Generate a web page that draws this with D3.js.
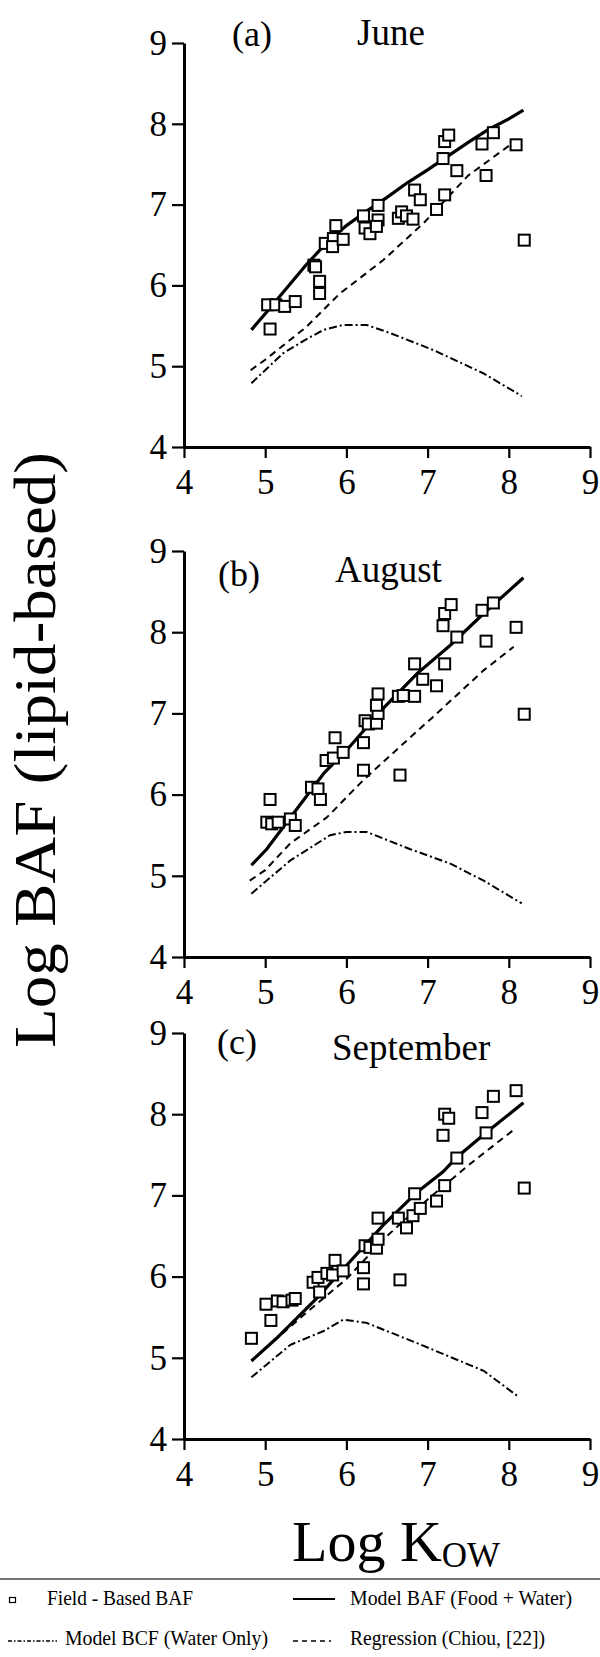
<!DOCTYPE html>
<html>
<head>
<meta charset="utf-8">
<script src="https://cdn.jsdelivr.net/npm/d3@7"></script>
<style>
body { margin: 0; background: #fff; }
svg { display: block; }
svg text { font-family: "Liberation Serif", "Times New Roman", serif; }
</style>
</head>
<body>
<svg></svg>
<script>
// values (log Kow, log BAF)
let ticks = [4, 5, 6, 7, 8, 9]

let juneField = [[5.03,5.76],[5.13,5.76],[5.24,5.74],[5.37,5.80],[5.06,5.46],[5.60,6.25],[5.62,6.23],[5.67,6.05],[5.67,5.90],[5.74,6.52],[5.84,6.58],[5.83,6.48],[5.87,6.74],[5.96,6.57],[6.21,6.86],[6.23,6.71],[6.29,6.64],[6.39,6.99],[6.39,6.81],[6.37,6.73],[6.64,6.83],[6.68,6.91],[6.74,6.86],[6.82,6.82],[6.84,7.18],[6.91,7.06],[7.11,6.94],[7.21,7.12],[7.19,7.57],[7.21,7.78],[7.26,7.86],[7.36,7.42],[7.67,7.75],[7.72,7.36],[7.81,7.89],[8.09,7.74],[8.19,6.56]]
let juneBAF = [[4.83,5.45],[5.0,5.65],[5.25,5.95],[5.5,6.25],[5.75,6.52],[6.0,6.74],[6.25,6.92],[6.5,7.09],[6.75,7.27],[7.0,7.43],[7.25,7.6],[7.5,7.77],[7.75,7.93],[8.0,8.06],[8.18,8.17]]
let juneBCF = [[4.83,4.79],[5.22,5.16],[5.5,5.33],[5.72,5.45],[5.96,5.51],[6.25,5.51],[6.54,5.41],[7.07,5.20],[7.69,4.91],[8.16,4.63]]
let juneReg = [[4.82,4.95],[5.0,5.08],[5.5,5.48],[5.92,5.90],[6.45,6.31],[6.95,6.77],[7.5,7.36],[8.1,7.80]]

let augustField = [[5.06,5.94],[5.02,5.66],[5.08,5.64],[5.16,5.66],[5.31,5.70],[5.37,5.62],[5.57,6.09],[5.65,6.07],[5.68,5.94],[5.75,6.42],[5.84,6.45],[5.86,6.70],[5.96,6.52],[6.21,6.64],[6.21,6.30],[6.23,6.91],[6.27,6.87],[6.37,6.88],[6.39,7.00],[6.37,7.10],[6.39,7.24],[6.64,7.21],[6.70,7.22],[6.84,7.21],[6.84,7.61],[6.94,7.42],[7.11,7.34],[6.66,6.24],[7.21,7.61],[7.19,8.08],[7.21,8.23],[7.29,8.34],[7.36,7.94],[7.67,8.27],[7.72,7.89],[7.81,8.36],[8.09,8.06],[8.19,6.99]]
let augustBAF = [[4.83,5.13],[5.02,5.33],[5.35,5.77],[5.72,6.26],[6.04,6.59],[6.45,7.06],[6.87,7.49],[7.28,7.84],[7.69,8.23],[8.18,8.67]]
let augustBCF = [[4.83,4.78],[5.31,5.19],[5.80,5.50],[6.0,5.54],[6.25,5.54],[6.78,5.33],[7.28,5.15],[7.69,4.94],[8.16,4.66]]
let augustReg = [[4.81,4.94],[5.0,5.07],[5.31,5.40],[5.76,5.72],[6.21,6.18],[6.66,6.59],[7.07,6.96],[7.69,7.53],[8.06,7.82]]

let septemberField = [[4.83,5.24],[5.01,5.66],[5.07,5.46],[5.15,5.70],[5.22,5.69],[5.33,5.71],[5.37,5.73],[5.59,5.93],[5.65,5.99],[5.67,5.81],[5.76,6.04],[5.83,6.02],[5.86,6.20],[5.96,6.07],[6.21,6.11],[6.21,5.91],[6.23,6.38],[6.29,6.36],[6.37,6.35],[6.39,6.46],[6.39,6.72],[6.64,6.72],[6.66,5.96],[6.74,6.60],[6.82,6.75],[6.84,7.02],[6.91,6.84],[7.11,6.93],[7.21,7.12],[7.19,7.74],[7.21,8.00],[7.26,7.95],[7.36,7.46],[7.67,8.02],[7.72,7.77],[7.81,8.22],[8.09,8.29],[8.19,7.09]]
let septemberBAF = [[4.83,4.96],[5.14,5.24],[5.63,5.73],[6.04,6.18],[6.45,6.63],[6.87,7.04],[7.19,7.29],[7.36,7.47],[7.73,7.78],[8.18,8.14]]
let septemberBCF = [[4.83,4.76],[5.31,5.16],[5.72,5.33],[5.96,5.47],[6.25,5.43],[6.87,5.18],[7.69,4.84],[8.12,4.52]]
let septemberReg = [[5.1,5.2],[5.5,5.55],[6.0,5.97],[6.5,6.5],[7.0,6.95],[7.5,7.37],[8.05,7.8]]

let width = 600
let height = 1657
let serif = '"Liberation Serif", "Times New Roman", serif'

let panels = [
    { tag: '(a)', month: 'June', field: juneField, baf: juneBAF, bcf: juneBCF, reg: juneReg,
      top: 43, bottom: 447, tagX: 232, tagY: 46, monthX: 357, monthY: 45 },
    { tag: '(b)', month: 'August', field: augustField, baf: augustBAF, bcf: augustBCF, reg: augustReg,
      top: 551, bottom: 957, tagX: 218, tagY: 586, monthX: 335, monthY: 582 },
    { tag: '(c)', month: 'September', field: septemberField, baf: septemberBAF, bcf: septemberBCF, reg: septemberReg,
      top: 1033, bottom: 1439, tagX: 217, tagY: 1054, monthX: 332, monthY: 1060 }
]

let svg = d3.select('svg')
            .attr('width', width)
            .attr('height', height)

svg.append('rect').attr('width', width).attr('height', height).attr('fill', '#fff')

let x = d3.scaleLinear().domain([4, 9]).range([184, 590])

panels.forEach(p => {
    let y = d3.scaleLinear().domain([4, 9]).range([p.bottom, p.top])
    let g = svg.append('g')

    let line = d3.line()
                 .x(d => x(d[0]))
                 .y(d => y(d[1]))

    g.append('path').attr('d', line(p.bcf))
        .attr('fill', 'none').attr('stroke', '#000')
        .attr('stroke-width', 2).attr('stroke-dasharray', '8,3,2,3')

    g.append('path').attr('d', line(p.reg))
        .attr('fill', 'none').attr('stroke', '#000')
        .attr('stroke-width', 2).attr('stroke-dasharray', '7,5')

    g.append('path').attr('d', line(p.baf))
        .attr('fill', 'none').attr('stroke', '#000')
        .attr('stroke-width', 3.2)

    g.selectAll('rect.pt')
        .data(p.field)
        .enter()
        .append('rect')
        .attr('class', 'pt')
        .attr('x', d => x(d[0]) - 5.5)
        .attr('y', d => y(d[1]) - 5.5)
        .attr('width', 11)
        .attr('height', 11)
        .attr('fill', '#fff')
        .attr('stroke', '#000')
        .attr('stroke-width', 2)

    let yAxis = g.append('g')
        .attr('transform', 'translate(184,0)')
        .call(d3.axisLeft(y).tickValues(ticks).tickFormat(d3.format('d'))
                .tickSize(12).tickSizeOuter(0).tickPadding(5))
    let xAxis = g.append('g')
        .attr('transform', `translate(0,${p.bottom})`)
        .call(d3.axisBottom(x).tickValues(ticks).tickFormat(d3.format('d'))
                .tickSize(11).tickSizeOuter(0).tickPadding(11))

    ;[yAxis, xAxis].forEach(a => {
        a.attr('font-family', null)
        a.select('.domain').attr('stroke-width', 3).attr('stroke', '#000')
        a.selectAll('.tick line').attr('stroke-width', 2.2).attr('stroke', '#000')
        a.selectAll('.tick text')
            .attr('font-size', 35)
            .attr('fill', '#000')
    })

    g.append('text').attr('x', p.tagX).attr('y', p.tagY)
        .attr('font-size', 36).text(p.tag)
    g.append('text').attr('x', p.monthX).attr('y', p.monthY)
        .attr('font-size', 37).text(p.month)
})

// axis titles
svg.append('text')
    .attr('transform', 'translate(55,750) rotate(-90)')
    .attr('text-anchor', 'middle')
    .attr('font-size', 60)
    .attr('textLength', 596)
    .attr('lengthAdjust', 'spacingAndGlyphs')
    .text('Log BAF (lipid-based)')

let xt = svg.append('text')
    .attr('x', 292).attr('y', 1561)
    .attr('font-size', 58)
xt.append('tspan').text('Log K')
xt.append('tspan').attr('font-size', 35).attr('dy', 6).text('OW')

// legend
svg.append('line')
    .attr('x1', 0).attr('x2', width)
    .attr('y1', 1579).attr('y2', 1579)
    .attr('stroke', '#444').attr('stroke-width', 1.6)

let legend = svg.append('g').attr('font-size', 21)

legend.append('rect')
    .attr('x', 9.5).attr('y', 1597.5).attr('width', 6).attr('height', 5)
    .attr('fill', '#fff').attr('stroke', '#000').attr('stroke-width', 1.2)

let samples = [
    { x1: 293, x2: 335, y: 1599, dash: null, w: 2 },
    { x1: 8, x2: 57, y: 1641, dash: '4,2,1.5,2', w: 1.5 },
    { x1: 293, x2: 331, y: 1641, dash: '5,4', w: 1.5 }
]
samples.forEach(s => {
    legend.append('line')
        .attr('x1', s.x1).attr('x2', s.x2).attr('y1', s.y).attr('y2', s.y)
        .attr('stroke', '#000').attr('stroke-width', s.w)
        .attr('stroke-dasharray', s.dash)
})

let labels = [
    { x: 47, y: 1605, len: 146, t: 'Field - Based BAF' },
    { x: 350, y: 1605, len: 222, t: 'Model BAF (Food + Water)' },
    { x: 65, y: 1645, len: 203, t: 'Model BCF (Water Only)' },
    { x: 350, y: 1645, len: 195, t: 'Regression (Chiou, [22])' }
]
legend.selectAll('text.lab')
    .data(labels)
    .enter()
    .append('text')
    .attr('class', 'lab')
    .attr('x', d => d.x)
    .attr('y', d => d.y)
    .attr('textLength', d => d.len)
    .attr('lengthAdjust', 'spacingAndGlyphs')
    .text(d => d.t)

svg.selectAll('text').style('font-family', serif)
</script>
</body>
</html>
